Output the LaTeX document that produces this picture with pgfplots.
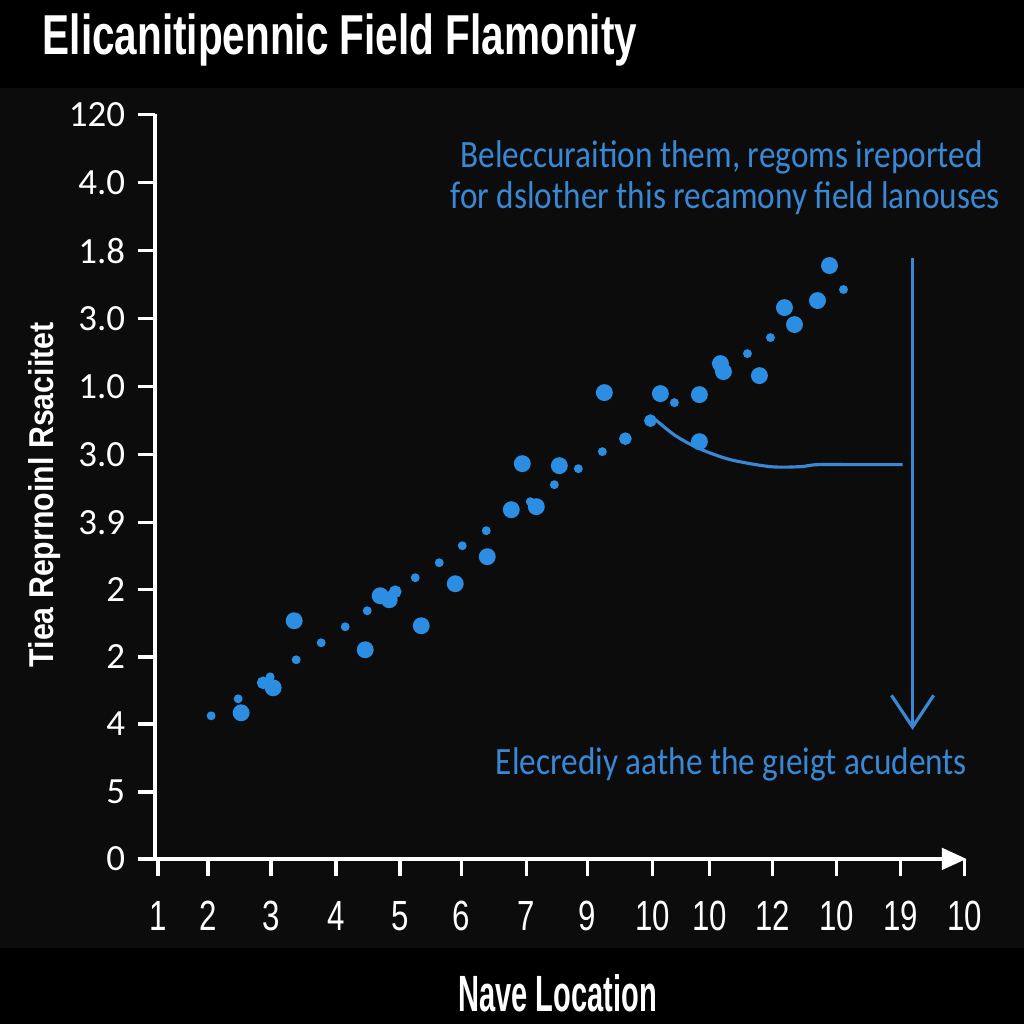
\documentclass[border=0pt]{standalone}
\usepackage{fontspec}
\setmainfont{Carlito}
\newfontfamily\condfont[FakeStretch=0.72]{Liberation Sans}
\newfontfamily\xlabfont[FakeStretch=0.57]{Liberation Sans}
\newfontfamily\tickfont[FakeStretch=0.74]{Liberation Sans}
\newfontfamily\labfont[FakeStretch=0.88]{Liberation Sans}
\newfontfamily\notefont[FakeStretch=0.86]{Carlito}
\usepackage{pgfplots}
\pgfplotsset{compat=1.18}
\usetikzlibrary{arrows.meta}
\definecolor{dotblue}{RGB}{44,142,226}
\definecolor{txtblue}{RGB}{58,135,212}
\definecolor{panel}{RGB}{12,12,12}

\begin{document}
\begin{tikzpicture}[x=0.01cm,y=0.01cm]
% page and panel (pixel grid of the reference, y up)
\fill[black,use as bounding box] (0,0) rectangle (1024,1024);
\fill[panel] (0,76) rectangle (1024,936);
\begin{axis}[
  at={(155,165)}, anchor=south west,
  scale only axis, width=8.11cm, height=7.44cm,
  xmin=155, xmax=966, ymin=165, ymax=909,
  axis x line=bottom, axis y line=left,
  x axis line style={white, line width=1.2pt, -{Triangle[length=7pt,width=6pt]}},
  y axis line style={white, line width=1pt, -},
  tick align=outside, major tick length=5pt,
  tick style={white, line width=1pt},
  xtick={158,208,271,336,400,461,526,587,652,709,772,836,900,964},
  xticklabels={1,2,3,4,5,6,7,9,10,10,12,10,19,10},
  ytick={909,841,773,705,637,569,501,434,367,300,232,165},
  yticklabels={120,4.0,1.8,3.0,1.0,3.0,3.9,2,2,4,5,0},
  xticklabel style={font=\tickfont\fontsize{12}{12}\selectfont, white, yshift=-3.5pt},
  yticklabel style={font=\fontsize{10.5}{10.5}\selectfont, white, xshift=0pt},
  clip=false,
  title={Elicanitipennic Field Flamonity},
  title style={at={(axis description cs:-0.1393,1.1035)}, anchor=west, yshift=-6.8pt,
    inner sep=0pt, font=\condfont\bfseries\fontsize{16}{16}\selectfont, white},
  xlabel={Nave Location},
  xlabel style={at={(axis description cs:0.496,-0.18)}, anchor=center,
    font=\xlabfont\bfseries\fontsize{14.5}{14.5}\selectfont, white},
  ylabel={Tiea Reprnoinl Rsaciitet},
  ylabel style={at={(axis description cs:-0.1356,0.489)}, anchor=center,
    font=\labfont\bfseries\fontsize{9.8}{10}\selectfont, white},
]
% large dots
\addplot[only marks, mark=*, mark size=2.2pt, dotblue, mark options={draw=none}] coordinates {
(604,631) (660,630) (522,560) (559,558) (511,514) (536,517) (487,467) (455,440)
(380,428) (389,424) (294,403) (421,398) (365,374) (273,336) (241,311) (829,758)
(817,723) (784,716) (794,699) (720,660) (723,652) (759,648) (699,629) (699,582)};
% medium dots
\addplot[only marks, mark=*, mark size=1.6pt, dotblue, mark options={draw=none}] coordinates {
(650,603) (625,585) (395,432) (263,341)};
% small dots
\addplot[only marks, mark=*, mark size=1.05pt, dotblue, mark options={draw=none}] coordinates {
(674,621) (602,572) (578,555) (554,539) (530,522) (486,493) (462,478) (439,461)
(415,446) (367,413) (345,397) (321,381) (296,364) (270,347) (238,325) (211,308)
(843,734) (770,686) (747,670)};
% callout curve and arrow
\addplot[txtblue, line width=0.9pt, smooth, tension=0.5] coordinates {
(655,604) (675,588) (699,575) (730,564) (770,557) (800,557) (817,559) (860,559) (902,559)};
\addplot[txtblue, line width=0.9pt, -{Straight Barb[length=9pt,width=12pt]}] coordinates {
(912,766) (912,294)};
\node[txtblue, font=\notefont\fontsize{11}{11}\selectfont] at (axis cs:721,866) {Beleccuraition them, regoms ireported};
\node[txtblue, font=\notefont\fontsize{11}{11}\selectfont] at (axis cs:725,825) {for dslother this recamony field lanouses};
\node[txtblue, font=\notefont\fontsize{11}{11}\selectfont] at (axis cs:731,259) {Elecrediy aathe the gıeigt acudents};
\end{axis}
\end{tikzpicture}
\end{document}
